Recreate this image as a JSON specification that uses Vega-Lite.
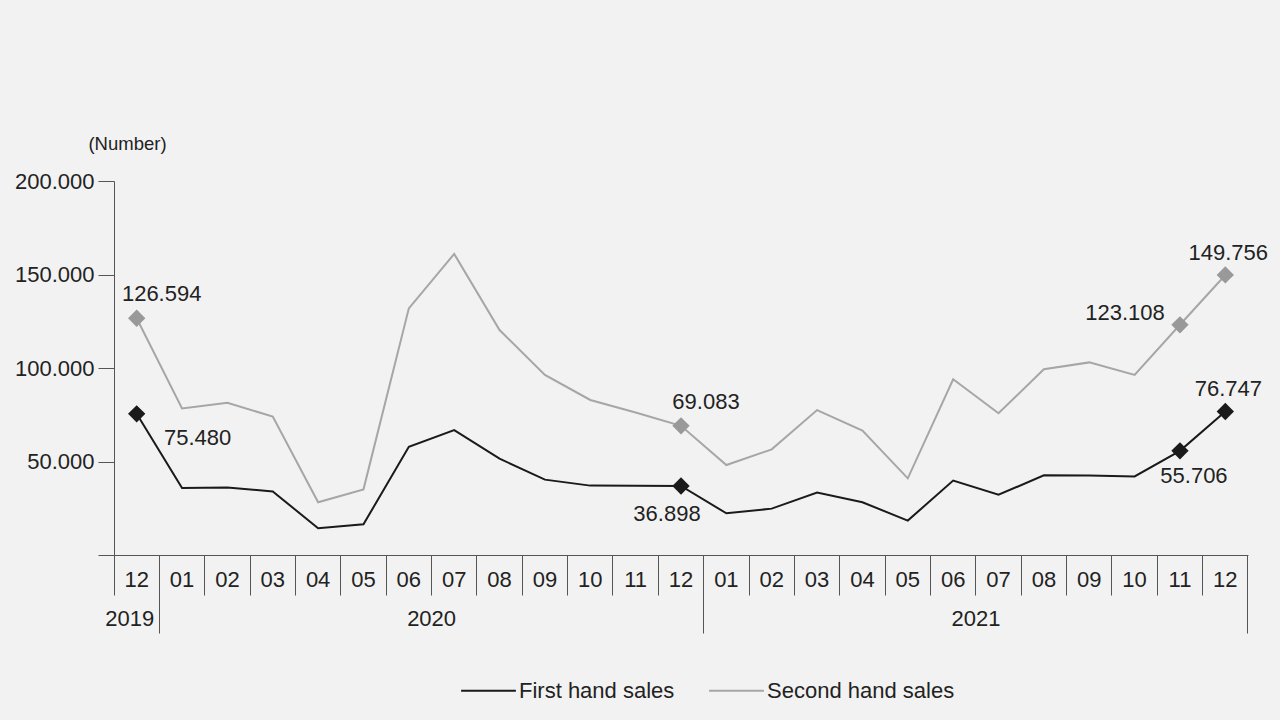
{
  "$schema": "https://vega.github.io/schema/vega-lite/v6.json",
  "width": 1134,
  "height": 374,
  "autosize": {"type": "none"},
  "padding": {"left": 114, "top": 181, "right": 32, "bottom": 165},
  "background": "#f2f2f2",
  "config": {
    "view": {"stroke": null},
    "font": "Liberation Sans",
    "locale": {"number": {"decimal": ",", "thousands": ".", "grouping": [3], "currency": ["", ""]}},
    "axis": {"domainColor": "#555555", "tickColor": "#555555", "labelColor": "#222222", "labelFont": "Liberation Sans", "labelFontSize": 22, "grid": false}
  },
  "data": {"values": [
    {"k": "2019-12", "s": "First hand sales", "v": 75480},
    {"k": "2020-01", "s": "First hand sales", "v": 35800},
    {"k": "2020-02", "s": "First hand sales", "v": 36100},
    {"k": "2020-03", "s": "First hand sales", "v": 34000},
    {"k": "2020-04", "s": "First hand sales", "v": 14300},
    {"k": "2020-05", "s": "First hand sales", "v": 16400},
    {"k": "2020-06", "s": "First hand sales", "v": 57900},
    {"k": "2020-07", "s": "First hand sales", "v": 66800},
    {"k": "2020-08", "s": "First hand sales", "v": 51500},
    {"k": "2020-09", "s": "First hand sales", "v": 40300},
    {"k": "2020-10", "s": "First hand sales", "v": 37100},
    {"k": "2020-11", "s": "First hand sales", "v": 37000},
    {"k": "2020-12", "s": "First hand sales", "v": 36898},
    {"k": "2021-01", "s": "First hand sales", "v": 22300},
    {"k": "2021-02", "s": "First hand sales", "v": 24800},
    {"k": "2021-03", "s": "First hand sales", "v": 33400},
    {"k": "2021-04", "s": "First hand sales", "v": 28200},
    {"k": "2021-05", "s": "First hand sales", "v": 18400},
    {"k": "2021-06", "s": "First hand sales", "v": 39800},
    {"k": "2021-07", "s": "First hand sales", "v": 32200},
    {"k": "2021-08", "s": "First hand sales", "v": 42600},
    {"k": "2021-09", "s": "First hand sales", "v": 42500},
    {"k": "2021-10", "s": "First hand sales", "v": 42000},
    {"k": "2021-11", "s": "First hand sales", "v": 55706},
    {"k": "2021-12", "s": "First hand sales", "v": 76747},
    {"k": "2019-12", "s": "Second hand sales", "v": 126594},
    {"k": "2020-01", "s": "Second hand sales", "v": 78400},
    {"k": "2020-02", "s": "Second hand sales", "v": 81400},
    {"k": "2020-03", "s": "Second hand sales", "v": 74000},
    {"k": "2020-04", "s": "Second hand sales", "v": 28200},
    {"k": "2020-05", "s": "Second hand sales", "v": 35100},
    {"k": "2020-06", "s": "Second hand sales", "v": 131900},
    {"k": "2020-07", "s": "Second hand sales", "v": 161000},
    {"k": "2020-08", "s": "Second hand sales", "v": 120300},
    {"k": "2020-09", "s": "Second hand sales", "v": 96300},
    {"k": "2020-10", "s": "Second hand sales", "v": 82900},
    {"k": "2020-11", "s": "Second hand sales", "v": 76200},
    {"k": "2020-12", "s": "Second hand sales", "v": 69083},
    {"k": "2021-01", "s": "Second hand sales", "v": 48100},
    {"k": "2021-02", "s": "Second hand sales", "v": 56500},
    {"k": "2021-03", "s": "Second hand sales", "v": 77500},
    {"k": "2021-04", "s": "Second hand sales", "v": 66500},
    {"k": "2021-05", "s": "Second hand sales", "v": 41000},
    {"k": "2021-06", "s": "Second hand sales", "v": 94000},
    {"k": "2021-07", "s": "Second hand sales", "v": 75800},
    {"k": "2021-08", "s": "Second hand sales", "v": 99300},
    {"k": "2021-09", "s": "Second hand sales", "v": 103000},
    {"k": "2021-10", "s": "Second hand sales", "v": 96300},
    {"k": "2021-11", "s": "Second hand sales", "v": 123108},
    {"k": "2021-12", "s": "Second hand sales", "v": 149756}
  ]},
  "resolve": {"axis": {"x": "independent"}},
  "layer": [
    {
      "mark": {"type": "line", "strokeWidth": 2},
      "encoding": {
        "x": {"field": "k", "type": "ordinal", "sort": null, "bandPosition": 0.5,
          "scale": {"type": "band", "paddingInner": 0, "paddingOuter": 0},
          "axis": {"title": null, "orient": "bottom", "bandPosition": 0, "tickSize": 40, "labelPadding": -26,
            "labelExpr": "substring(datum.value, 5, 7)", "labelFontSize": 22, "labelAngle": 0, "labelAlign": "center",
            "labelOverlap": false, "labelBound": false, "labelFlush": false}},
        "y": {"field": "v", "type": "quantitative", "scale": {"domain": [0, 200000], "nice": false},
          "axis": {"title": "(Number)", "titleAngle": 0, "titleAlign": "center", "titleBaseline": "middle", "titleX": 13, "titleY": -38,
            "titleFont": "Liberation Sans", "titleFontSize": 18.5, "titleFontWeight": "normal", "titleColor": "#222222",
            "values": [0, 50000, 100000, 150000, 200000], "labelExpr": "datum.value === 0 ? '' : format(datum.value, ',')",
            "tickSize": 16, "labelPadding": 4, "labelFontSize": 22}},
        "color": {"field": "s", "type": "nominal",
          "scale": {"domain": ["First hand sales", "Second hand sales"], "range": ["#1a1a1a", "#a6a6a6"]},
          "legend": {"orient": "none", "legendX": 346, "legendY": 481, "direction": "horizontal", "title": null,
            "symbolType": "stroke", "symbolSize": 3000, "symbolStrokeWidth": 2, "labelFontSize": 22, "labelColor": "#222222",
            "labelFont": "Liberation Sans", "labelLimit": 400, "columnPadding": 30, "labelOffset": 2}}
      }
    },
    {
      "transform": [{"filter": "datum.k === '2019-12' || datum.k === '2020-12' || datum.k === '2021-11' || datum.k === '2021-12'"}],
      "mark": {"type": "point", "shape": "diamond", "filled": true, "size": 300, "opacity": 1},
      "encoding": {
        "x": {"field": "k", "type": "ordinal", "sort": null, "bandPosition": 0.5,
          "axis": {"title": null, "orient": "bottom", "bandPosition": 1, "values": ["2019-12", "2020-12", "2021-12"],
            "tickSize": 78, "labelPadding": -25, "domain": false,
            "labelOffset": {"condition": {"test": "datum.value === '2019-12'", "value": -7}, "value": -249.4},
            "labelExpr": "substring(datum.value, 0, 4)", "labelFontSize": 22, "labelAngle": 0, "labelAlign": "center",
            "labelOverlap": false, "labelBound": false, "labelFlush": false}},
        "y": {"field": "v", "type": "quantitative"},
        "fill": {"field": "s", "type": "nominal",
          "scale": {"domain": ["First hand sales", "Second hand sales"], "range": ["#1a1a1a", "#999999"]}, "legend": null}
      }
    },
    {
      "transform": [{"filter": "datum.s === 'Second hand sales' && (datum.k === '2019-12' || datum.k === '2020-12')"}],
      "mark": {"type": "text", "align": "center", "baseline": "alphabetic", "dx": 25, "dy": -17, "fontSize": 22, "color": "#222222"},
      "encoding": {
        "x": {"field": "k", "type": "ordinal", "sort": null, "bandPosition": 0.5, "axis": null},
        "y": {"field": "v", "type": "quantitative"},
        "text": {"field": "v", "type": "quantitative", "format": ","}
      }
    },
    {
      "transform": [{"filter": "datum.k === '2021-12'"}],
      "mark": {"type": "text", "align": "center", "baseline": "alphabetic", "dx": 3, "dy": -15, "fontSize": 22, "color": "#222222"},
      "encoding": {
        "x": {"field": "k", "type": "ordinal", "sort": null, "bandPosition": 0.5, "axis": null},
        "y": {"field": "v", "type": "quantitative"},
        "text": {"field": "v", "type": "quantitative", "format": ","}
      }
    },
    {
      "transform": [{"filter": "datum.s === 'First hand sales' && datum.k === '2019-12'"}],
      "mark": {"type": "text", "align": "center", "baseline": "alphabetic", "dx": 61, "dy": 31, "fontSize": 22, "color": "#222222"},
      "encoding": {
        "x": {"field": "k", "type": "ordinal", "sort": null, "bandPosition": 0.5, "axis": null},
        "y": {"field": "v", "type": "quantitative"},
        "text": {"field": "v", "type": "quantitative", "format": ","}
      }
    },
    {
      "transform": [{"filter": "datum.s === 'First hand sales' && datum.k === '2020-12'"}],
      "mark": {"type": "text", "align": "center", "baseline": "alphabetic", "dx": -14, "dy": 35, "fontSize": 22, "color": "#222222"},
      "encoding": {
        "x": {"field": "k", "type": "ordinal", "sort": null, "bandPosition": 0.5, "axis": null},
        "y": {"field": "v", "type": "quantitative"},
        "text": {"field": "v", "type": "quantitative", "format": ","}
      }
    },
    {
      "transform": [{"filter": "datum.s === 'Second hand sales' && datum.k === '2021-11'"}],
      "mark": {"type": "text", "align": "center", "baseline": "alphabetic", "dx": -55, "dy": -5, "fontSize": 22, "color": "#222222"},
      "encoding": {
        "x": {"field": "k", "type": "ordinal", "sort": null, "bandPosition": 0.5, "axis": null},
        "y": {"field": "v", "type": "quantitative"},
        "text": {"field": "v", "type": "quantitative", "format": ","}
      }
    },
    {
      "transform": [{"filter": "datum.s === 'First hand sales' && datum.k === '2021-11'"}],
      "mark": {"type": "text", "align": "center", "baseline": "alphabetic", "dx": 14, "dy": 32, "fontSize": 22, "color": "#222222"},
      "encoding": {
        "x": {"field": "k", "type": "ordinal", "sort": null, "bandPosition": 0.5, "axis": null},
        "y": {"field": "v", "type": "quantitative"},
        "text": {"field": "v", "type": "quantitative", "format": ","}
      }
    }
  ]
}
